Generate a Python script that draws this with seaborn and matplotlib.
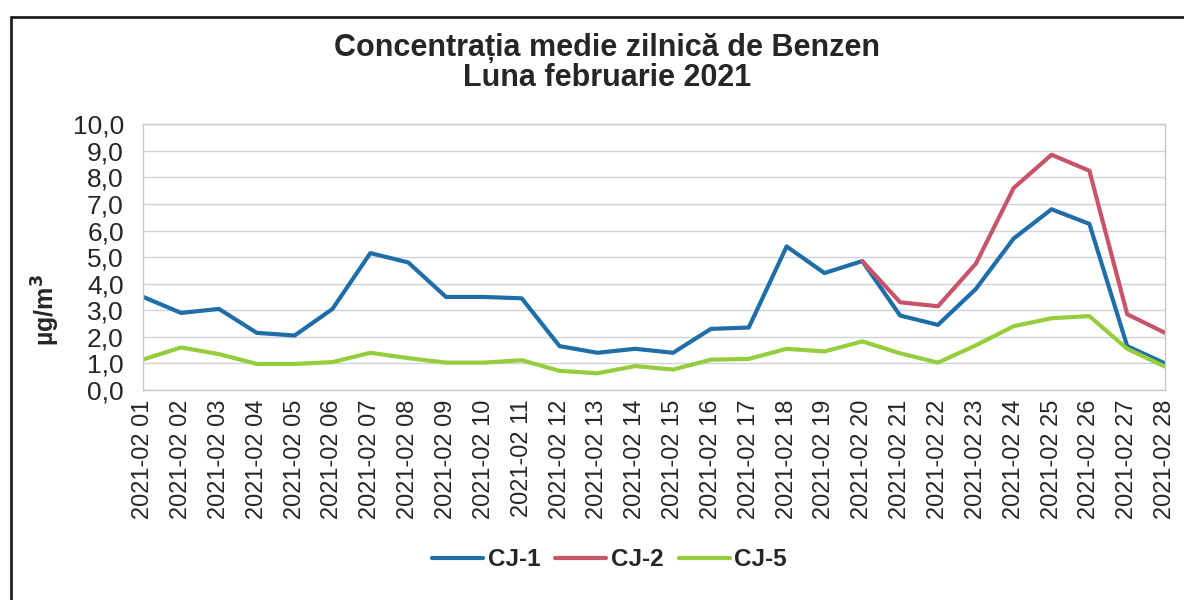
import numpy as np
import pandas as pd
import seaborn as sns
import matplotlib.pyplot as plt
from matplotlib.ticker import FuncFormatter, MultipleLocator
from matplotlib.lines import Line2D

# daily mean benzene, February 2021
zile = ['2021-02 %02d' % d for d in range(1, 29)]
cj1 = [3.5, 2.9, 3.05, 2.15, 2.05, 3.05, 5.15, 4.8, 3.5, 3.5, 3.45,
       1.65, 1.4, 1.55, 1.4, 2.3, 2.35, 5.4, 4.4, 4.85, 2.8, 2.45,
       3.8, 5.7, 6.8, 6.25, 1.65, 1.0]
cj2 = [np.nan] * 19 + [4.85, 3.3, 3.15, 4.75, 7.6, 8.85, 8.25, 2.85, 2.15]
cj5 = [1.15, 1.6, 1.35, 0.98, 0.98, 1.05, 1.4, 1.2, 1.03, 1.03, 1.12,
       0.72, 0.63, 0.9, 0.77, 1.14, 1.17, 1.55, 1.45, 1.83, 1.38, 1.03,
       1.68, 2.4, 2.7, 2.78, 1.55, 0.88]
statii = ['CJ-1', 'CJ-2', 'CJ-5']
culori = {'CJ-1': '#1f6ea8', 'CJ-2': '#c8546a', 'CJ-5': '#96cd3c'}

df = pd.concat([pd.DataFrame({'zi': zile, 'val': v, 'statie': s})
                for s, v in zip(statii, [cj1, cj2, cj5])]).dropna()

sns.set_style('white')
plt.rcParams['font.family'] = ['Liberation Sans', 'DejaVu Sans']

fig = plt.figure(figsize=(11.84, 6), dpi=100)
ax = fig.add_axes([0.121, 0.35, 0.863, 0.443])

sns.lineplot(data=df, x='zi', y='val', hue='statie', palette=culori,
             hue_order=statii, estimator=None, sort=False, linewidth=3,
             ax=ax)

ax.set_xlim(0, 27)
ax.set_ylim(0, 10)
ax.yaxis.set_major_locator(MultipleLocator(1))
ax.yaxis.set_major_formatter(FuncFormatter(lambda v, p: ('%.1f' % v).replace('.', ',')))
ax.grid(axis='y', color='#cfd2da', linewidth=1)
for s in ax.spines.values():
    s.set_color('#c8c8c8')
    s.set_linewidth(1)
ax.tick_params(axis='x', labelrotation=90, labelsize=17, length=0, pad=7)
ax.tick_params(axis='y', labelsize=19, length=0, pad=14)
ax.set_xlabel('')
ax.set_ylabel('µg/m$^\\mathbf{3}$', fontsize=18, fontweight='bold')
ax.yaxis.set_label_coords(-0.08, 0.3)

fig.suptitle('Concentrația medie zilnică de Benzen\nLuna februarie 2021',
             fontsize=22, fontweight='bold', y=0.945, x=0.513,
             linespacing=1.0)

leg = ax.legend(loc='center', bbox_to_anchor=(0.515, 0.067),
                bbox_transform=fig.transFigure, ncol=3, frameon=False,
                handlelength=2.1, handletextpad=0.2, columnspacing=0.6,
                prop={'size': 17.5, 'weight': 'bold'})

# chart frame
fig.add_artist(Line2D([0.009, 0.009], [0.0, 0.972], color='#222222', linewidth=2))
fig.add_artist(Line2D([0.009, 1.0], [0.972, 0.972], color='#222222', linewidth=2))

fig.savefig('out.png', dpi=100)
